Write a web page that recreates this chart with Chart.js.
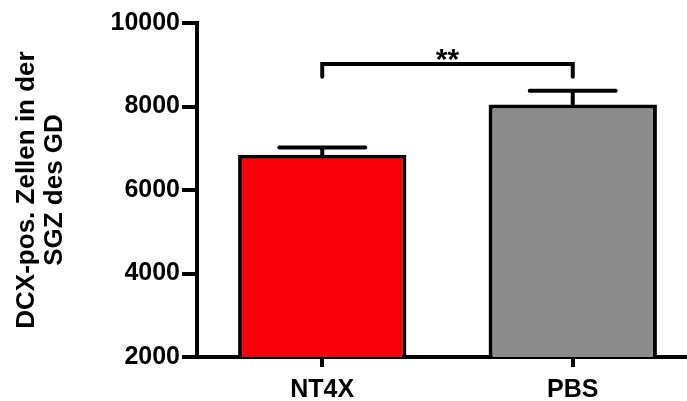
<!DOCTYPE html>
<html>
<head>
<meta charset="utf-8">
<script src="https://cdn.jsdelivr.net/npm/chart.js@4.4.1/dist/chart.umd.min.js"></script>
<style>
  html, body { margin: 0; padding: 0; background: #fff; overflow: hidden; }
  #chart { display: block; }
</style>
</head>
<body>
<canvas id="chart" width="700" height="401"></canvas>
<script>
// Daten
const gruppen = ['NT4X', 'PBS'];
const mittelwerte = [6845, 8045];
const sem = [170, 335];
const farben = ['#fa0008', '#8c8c8c'];
const yTicks = [2000, 4000, 6000, 8000, 10000];
const signifikanz = '**';
const klammerY = 9020;     // Höhe der Signifikanzklammer
const klammerFuss = 8715;  // untere Enden der Klammer

const fontFamily = "'Liberation Sans', Arial, sans-serif";

// Fehlerbalken (nur nach oben) und Signifikanzklammer
const extrasPlugin = {
    id: 'extras',
    afterDatasetsDraw(chart) {
        const { ctx, scales: { x, y } } = chart;
        ctx.save();
        ctx.strokeStyle = '#000';
        ctx.lineWidth = 4;
        ctx.lineCap = 'round';

        mittelwerte.forEach((m, i) => {
            const cx = x.getPixelForValue(i);
            const yBar = y.getPixelForValue(m);
            const yTop = y.getPixelForValue(m + sem[i]);
            ctx.beginPath();
            ctx.moveTo(cx, yBar);
            ctx.lineTo(cx, yTop);
            ctx.moveTo(cx - 43, yTop);
            ctx.lineTo(cx + 43, yTop);
            ctx.stroke();
        });

        const x1 = x.getPixelForValue(0);
        const x2 = x.getPixelForValue(1);
        const yk = y.getPixelForValue(klammerY);
        const yf = y.getPixelForValue(klammerFuss);
        ctx.beginPath();
        ctx.moveTo(x1, yf);
        ctx.lineTo(x1, yk);
        ctx.lineTo(x2, yk);
        ctx.lineTo(x2, yf);
        ctx.stroke();

        ctx.fillStyle = '#000';
        ctx.font = 'bold 30px ' + fontFamily;
        ctx.textAlign = 'center';
        ctx.textBaseline = 'alphabetic';
        ctx.fillText(signifikanz, (x1 + x2) / 2, yk + 5);
        ctx.restore();
    }
};

new Chart(document.getElementById('chart').getContext('2d'), {
    type: 'bar',
    data: {
        labels: gruppen,
        datasets: [{
            data: mittelwerte,
            backgroundColor: farben,
            borderColor: '#000',
            borderWidth: 4,
            borderSkipped: false,
            barPercentage: 0.672,
            categoryPercentage: 1
        }]
    },
    options: {
        responsive: false,
        animation: false,
        layout: { padding: { top: 23, right: 2, left: 0, bottom: 0 } },
        plugins: { legend: { display: false }, tooltip: { enabled: false } },
        scales: {
            x: {
                offset: true,
                grid: { offset: false, drawOnChartArea: false, color: '#000', lineWidth: 4, tickLength: 10 },
                border: { display: true, color: '#000', width: 4 },
                ticks: { color: '#000', font: { family: fontFamily, size: 25, weight: 'bold' }, padding: 8 },
                afterFit(scale) { scale.height = 44; }
            },
            y: {
                min: 2000,
                max: 10000,
                afterBuildTicks(scale) { scale.ticks = yTicks.map(v => ({ value: v })); },
                grid: { drawOnChartArea: false, color: '#000', lineWidth: 4, tickLength: 15 },
                border: { display: true, color: '#000', width: 4 },
                ticks: {
                    color: '#000',
                    font: { family: fontFamily, size: 25, weight: 'bold' },
                    padding: 2,
                    callback: v => String(v)
                },
                title: {
                    display: true,
                    text: ['DCX-pos. Zellen in der', 'SGZ des GD'],
                    color: '#000',
                    font: { family: fontFamily, size: 26, weight: 'bold', lineHeight: 1.08 },
                    padding: { top: 13, bottom: 0 }
                },
                afterFit(scale) { scale.width = 197; }
            }
        }
    },
    plugins: [extrasPlugin]
});
</script>
</body>
</html>
